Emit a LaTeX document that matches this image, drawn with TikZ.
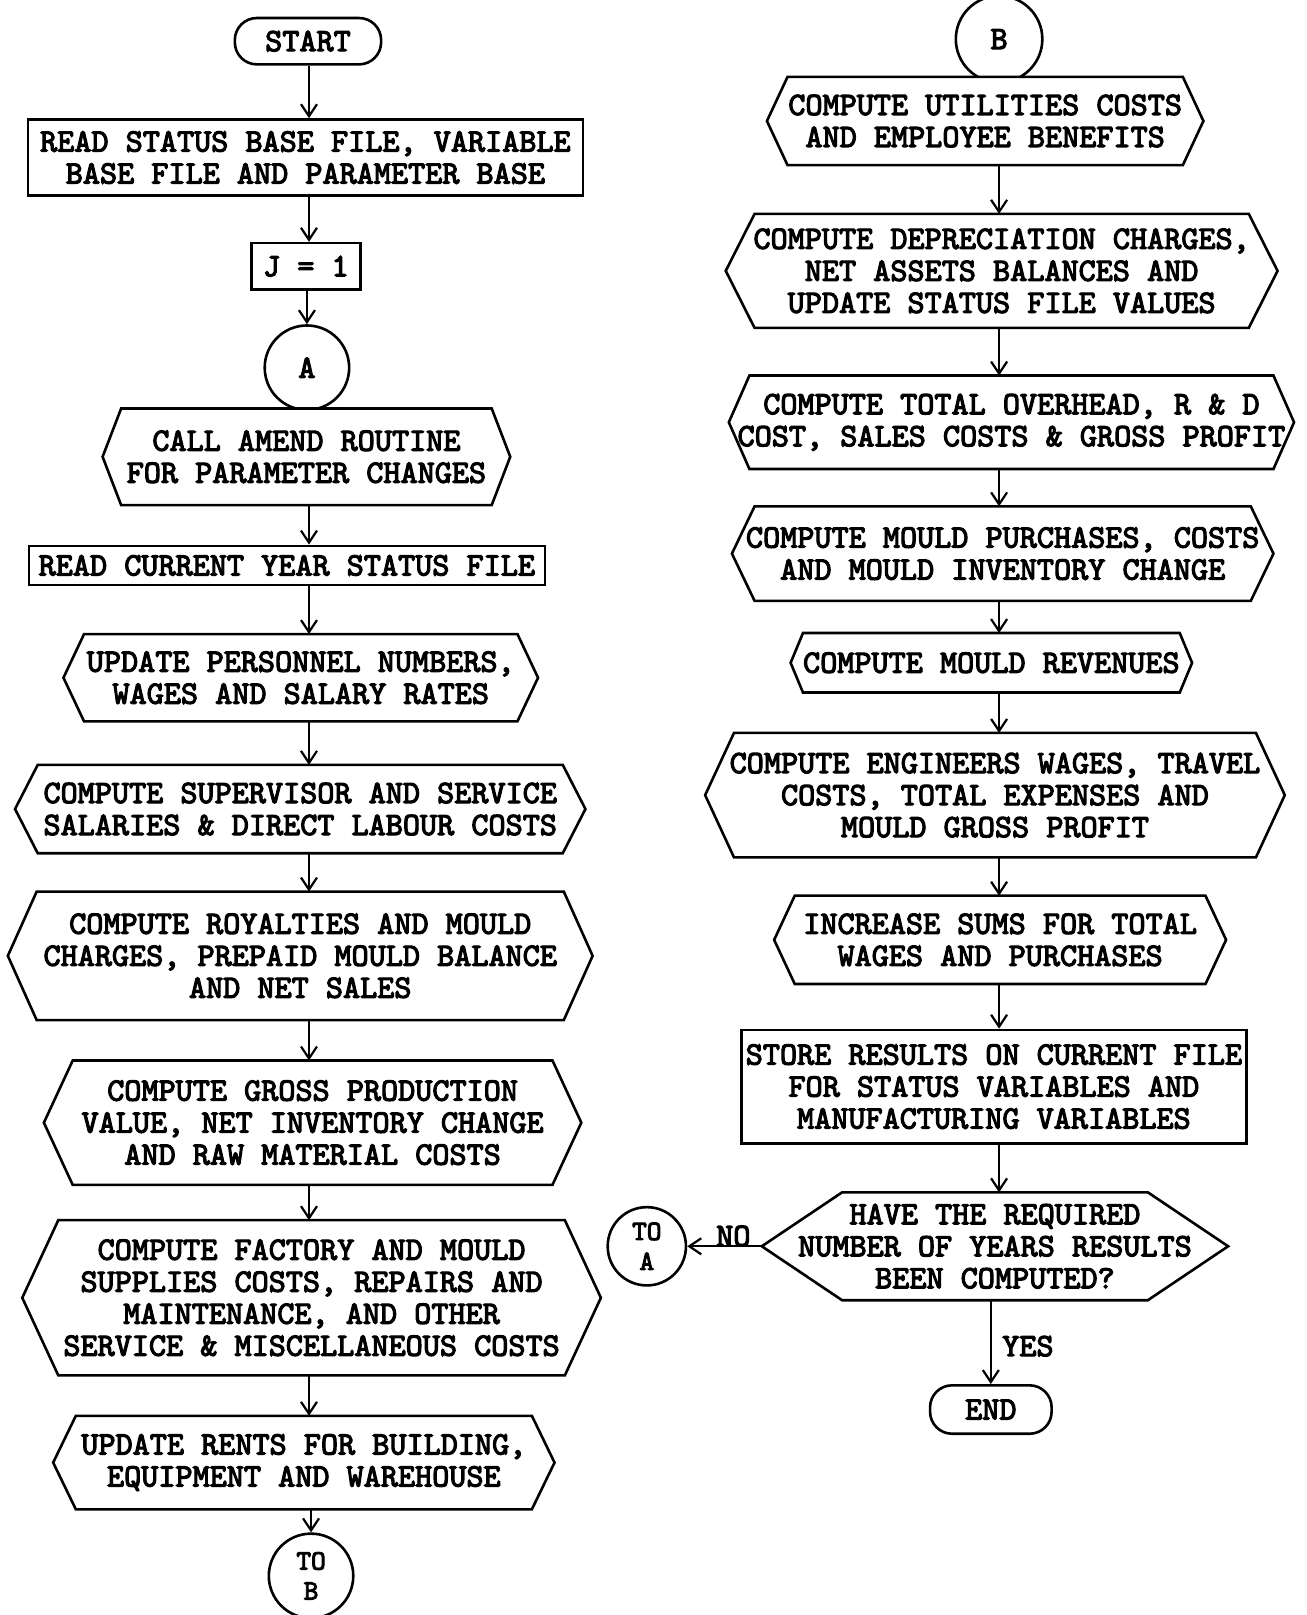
\documentclass[tikz,border=0pt]{standalone}
\usepackage{fontspec}
\newfontfamily\tw{lmmono10-regular}[Extension=.otf, BoldFont=lmmono10-regular, BoldFeatures={FakeBold=3.5}]
\usetikzlibrary{calc,arrows.meta,backgrounds}
\begin{document}
\begin{tikzpicture}[x=0.515pt,y=-0.515pt,
  every node/.style={font=\fontsize{16.3}{16}\selectfont\tw\bfseries, align=center, inner sep=0pt},
  box/.style 2 args={draw, line width=1.3pt, minimum width=#1*0.515pt, minimum height=#2*0.515pt},
  hexa/.style 2 args={minimum width=#1*0.515pt, minimum height=#2*0.515pt},
  term/.style 2 args={draw, line width=1.3pt, rounded corners=11pt, minimum width=#1*0.515pt, minimum height=#2*0.515pt},
  conn/.style={draw, circle, line width=1.3pt, minimum size=#1*0.515pt},
  small/.style={font=\fontsize{14}{15}\selectfont\tw\bfseries},
  hexline/.style={draw, line width=1.3pt, fill=white, line join=miter},
  arr/.style={line width=1.1pt, -{Straight Barb[length=6pt,width=8pt,line width=1.1pt]}}]
\useasboundingbox (0,0) rectangle (1268,1568);
\coordinate (cl) at (300,0);
\coordinate (cr) at (970,0);

% connector circles on background (partly hidden by hexagons)
\begin{pgfonlayer}{background}
\node[conn=82] (a) at (298,357) {A};
\node[conn=84] (b) at (970,38) {B};
\end{pgfonlayer}

% left column
\node[term={142}{45}] (start) at (299,40) {START};
\node[box={539}{74}] (read1) at (296.5,153) {READ STATUS BASE FILE, VARIABLE\\BASE FILE AND PARAMETER BASE};
\node[box={106}{45}] (j) at (297,258.5) {J = 1};
\node[hexa={395}{93}] (call) at (297.5,443.5) {CALL AMEND ROUTINE\\FOR PARAMETER CHANGES};
\node[box={501}{38}] (read2) at (278.5,549) {READ CURRENT YEAR STATUS FILE};
\node[hexa={460}{84}] (upd) at (292,658) {UPDATE PERSONNEL NUMBERS,\\WAGES AND SALARY RATES};
\node[hexa={553}{85}] (sup) at (291.5,785.5) {COMPUTE SUPERVISOR AND SERVICE\\SALARIES \& DIRECT LABOUR COSTS};
\node[hexa={567}{124}] (roy) at (291.5,928) {COMPUTE ROYALTIES AND MOULD\\CHARGES, PREPAID MOULD BALANCE\\AND NET SALES};
\node[hexa={521}{120}] (gross) at (303.5,1090) {COMPUTE GROSS PRODUCTION\\VALUE, NET INVENTORY CHANGE\\AND RAW MATERIAL COSTS};
\node[hexa={561}{150}] (fact) at (302.5,1260) {COMPUTE FACTORY AND MOULD\\SUPPLIES COSTS, REPAIRS AND\\MAINTENANCE, AND OTHER\\SERVICE \& MISCELLANEOUS COSTS};
\node[hexa={486}{90}] (rent) at (295,1420) {UPDATE RENTS FOR BUILDING,\\EQUIPMENT AND WAREHOUSE};
\node[conn=82, small] (tob) at (302,1530) {TO\\B};

% right column
\node[hexa={423}{85}] (util) at (956.5,117.5) {COMPUTE UTILITIES COSTS\\AND EMPLOYEE BENEFITS};
\node[hexa={535}{110}] (dep) at (972.5,263) {COMPUTE DEPRECIATION CHARGES,\\NET ASSETS BALANCES AND\\UPDATE STATUS FILE VALUES};
\node[hexa={548}{90}] (ovh) at (982,410) {COMPUTE TOTAL OVERHEAD, R \& D\\COST, SALES COSTS \& GROSS PROFIT};
\node[hexa={525}{91}] (mpur) at (973.5,537.5) {COMPUTE MOULD PURCHASES, COSTS\\AND MOULD INVENTORY CHANGE};
\node[hexa={389}{57}] (mrev) at (962.5,643.5) {COMPUTE MOULD REVENUES};
\node[hexa={562}{120}] (eng) at (966,772) {COMPUTE ENGINEERS WAGES, TRAVEL\\COSTS, TOTAL EXPENSES AND\\MOULD GROSS PROFIT};
\node[hexa={438}{85}] (inc) at (971,912.5) {INCREASE SUMS FOR TOTAL\\WAGES AND PURCHASES};
\node[box={490}{110}] (store) at (965,1055) {STORE RESULTS ON CURRENT FILE\\FOR STATUS VARIABLES AND\\MANUFACTURING VARIABLES};
\node[hexa={452}{104}] (dec) at (966,1210) {HAVE THE REQUIRED\\NUMBER OF YEARS RESULTS\\BEEN COMPUTED?};
\node[conn=76, small] (toa) at (628,1210) {TO\\A};
\node[term={118}{47}] (end) at (962,1368.5) {END};

% hexagon outlines (behind the text)
\begin{pgfonlayer}{background}
\foreach \n/\i in {call/18, upd/20, sup/22, roy/28, gross/28, fact/35, rent/22,
                   util/20, dep/28, ovh/20, mpur/22, mrev/12, eng/28, inc/20, dec/78}
  \draw[hexline] ($(\n.north west)+(\i,0)$) -- ($(\n.north east)+(-\i,0)$) -- (\n.east)
     -- ($(\n.south east)+(-\i,0)$) -- ($(\n.south west)+(\i,0)$) -- (\n.west) -- cycle;
\end{pgfonlayer}

% connectors left
\draw[arr] (start.south -| cl) -- (read1.north -| cl);
\draw[arr] (read1.south -| cl) -- (j.north -| cl);
\draw[arr] (j.south -| a) -- (a.north);
\draw[arr] (call.south -| cl) -- (read2.north -| cl);
\draw[arr] (read2.south -| cl) -- (upd.north -| cl);
\draw[arr] (upd.south -| cl) -- (sup.north -| cl);
\draw[arr] (sup.south -| cl) -- (roy.north -| cl);
\draw[arr] (roy.south -| cl) -- (gross.north -| cl);
\draw[arr] (gross.south -| cl) -- (fact.north -| cl);
\draw[arr] (fact.south -| cl) -- (rent.north -| cl);
\draw[arr] (rent.south -| tob) -- (tob.north);

% connectors right
\draw[arr] (util.south -| cr) -- (dep.north -| cr);
\draw[arr] (dep.south -| cr) -- (ovh.north -| cr);
\draw[arr] (ovh.south -| cr) -- (mpur.north -| cr);
\draw[arr] (mpur.south -| cr) -- (mrev.north -| cr);
\draw[arr] (mrev.south -| cr) -- (eng.north -| cr);
\draw[arr] (eng.south -| cr) -- (inc.north -| cr);
\draw[arr] (inc.south -| cr) -- (store.north -| cr);
\draw[arr] (store.south -| cr) -- (dec.north -| cr);
\draw[arr] (dec.south -| end) -- (end.north);
\draw[arr] (dec.west) -- (toa.east);

\node (no) at (712,1200) {NO};
\node (yes) at (998,1307) {YES};
\end{tikzpicture}
\end{document}
